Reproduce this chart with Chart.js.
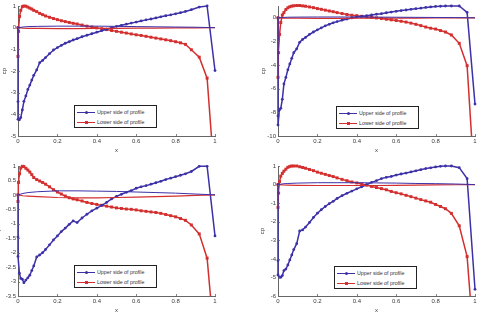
<!DOCTYPE html>
<html lang="en">
<head>
<meta charset="UTF-8" />
<title>Pressure coefficient on the profile</title>
<script src="https://cdn.jsdelivr.net/npm/chart.js@4"></script>
<style>
  body { margin: 0; background: #fff; width: 480px; height: 319px; overflow: hidden; position: relative;
         font-family: 'Liberation Sans', Arial, sans-serif; }
  .panel { position: absolute; width: 240px; height: 160px; }
  .panel canvas { position: absolute; left: 0; top: 0; }
  .legend { position: absolute; width: 83px; height: 23px; box-sizing: border-box; border: 1px solid #222;
            background: #fff; font-size: 5.3px; color: #333; }
  .legend .row { position: absolute; left: 0; height: 8px; width: 100%; }
  .legend .line { position: absolute; left: 2px; top: 3px; width: 18px; height: 1.5px; }
  .legend .mark { position: absolute; left: 9.5px; top: 2.2px; width: 3px; height: 3px; }
  .legend .txt { position: absolute; left: 22px; top: 0.5px; white-space: nowrap; line-height: 7px; }
</style>
</head>
<body>
<div class="panel" style="left:0;top:0"><canvas id="c1" width="240" height="160"></canvas></div>
<div class="panel" style="left:240px;top:0"><canvas id="c2" width="240" height="160"></canvas></div>
<div class="panel" style="left:0;top:160px"><canvas id="c3" width="240" height="160"></canvas></div>
<div class="panel" style="left:240px;top:160px"><canvas id="c4" width="240" height="160"></canvas></div>

<script>
// panel points along the chord (same discretisation in all four cases)
const xUpper = [0, 0, 0, 0.007, 0.014, 0.022, 0.03, 0.04, 0.05, 0.06, 0.07, 0.08, 0.095, 0.11, 0.125, 0.14,
  0.16, 0.18, 0.2, 0.22, 0.24, 0.26, 0.28, 0.3, 0.325, 0.35, 0.375, 0.4, 0.425, 0.45, 0.475, 0.5,
  0.525, 0.55, 0.575, 0.6, 0.625, 0.65, 0.675, 0.7, 0.725, 0.75, 0.775, 0.8, 0.825, 0.85, 0.88, 0.92, 0.96, 1.0];
const xLower = [0, 0, 0.003, 0.008, 0.014, 0.022, 0.03, 0.04, 0.05, 0.06, 0.07, 0.08, 0.095, 0.11, 0.125, 0.14,
  0.16, 0.18, 0.2, 0.22, 0.24, 0.26, 0.28, 0.3, 0.325, 0.35, 0.375, 0.4, 0.425, 0.45, 0.475, 0.5,
  0.525, 0.55, 0.575, 0.6, 0.625, 0.65, 0.675, 0.7, 0.725, 0.75, 0.775, 0.8, 0.825, 0.85, 0.88, 0.92, 0.96, 0.99];

// cp, upper side
const cpUpper1 = [0, -3.41, -4.23, -4.25, -4.15, -3.8, -3.4, -3.15, -2.85, -2.65, -2.42, -2.2, -1.95, -1.62, -1.51, -1.38,
  -1.2, -1.03, -0.92, -0.82, -0.72, -0.65, -0.57, -0.51, -0.42, -0.35, -0.28, -0.21, -0.14, -0.07, 0.0, 0.06,
  0.11, 0.16, 0.21, 0.26, 0.31, 0.36, 0.4, 0.45, 0.5, 0.55, 0.59, 0.64, 0.69, 0.75, 0.83, 0.95, 1.0, -1.98];
const cpUpper2 = [0, -8.3, -9.07, -7.8, -7.66, -6.9, -5.6, -5.04, -4.4, -3.9, -3.43, -2.95, -2.62, -2.07, -1.83, -1.66,
  -1.4, -1.2, -1.02, -0.85, -0.68, -0.55, -0.42, -0.32, -0.2, -0.1, -0.01, 0.07, 0.13, 0.18, 0.24, 0.3,
  0.35, 0.43, 0.49, 0.55, 0.61, 0.66, 0.72, 0.77, 0.82, 0.88, 0.92, 0.96, 0.98, 1.0, 1.0, 1.0, 0.46, -7.3];
const cpUpper3 = [0, -1.46, -2.13, -2.71, -2.89, -2.92, -3.04, -2.95, -2.87, -2.78, -2.62, -2.46, -2.15, -2.08, -2.0, -1.89,
  -1.73, -1.56, -1.42, -1.27, -1.15, -1.02, -0.9, -0.96, -0.8, -0.67, -0.55, -0.46, -0.36, -0.26, -0.14, -0.05,
  0.02, 0.09, 0.15, 0.23, 0.28, 0.32, 0.37, 0.42, 0.47, 0.53, 0.58, 0.63, 0.68, 0.73, 0.81, 0.99, 0.99, -1.42];
const cpUpper4 = [0, -4.09, -4.87, -4.99, -4.99, -4.9, -4.63, -4.55, -4.33, -4.06, -3.79, -3.5, -3.18, -2.5, -2.44, -2.29,
  -2.04, -1.77, -1.54, -1.35, -1.18, -1.03, -0.9, -0.75, -0.6, -0.47, -0.35, -0.23, -0.12, -0.01, 0.12, 0.21,
  0.32, 0.39, 0.44, 0.51, 0.57, 0.62, 0.68, 0.74, 0.8, 0.86, 0.9, 0.95, 0.98, 1.0, 1.0, 0.91, 0.32, -5.64];

// cp, lower side
const cpLower1 = [0, -1.33, -0.17, 0.52, 0.8, 0.97, 1.0, 0.99, 0.95, 0.9, 0.86, 0.8, 0.74, 0.66, 0.6, 0.54,
  0.48, 0.42, 0.37, 0.32, 0.28, 0.24, 0.2, 0.17, 0.12, 0.07, 0.03, -0.01, -0.05, -0.09, -0.13, -0.17,
  -0.21, -0.25, -0.29, -0.33, -0.36, -0.4, -0.44, -0.48, -0.52, -0.56, -0.6, -0.65, -0.7, -0.77, -1.02, -1.36, -2.33, -6.0];
const cpLower2 = [0, -5.04, -2.95, -1.4, -0.4, 0.24, 0.44, 0.7, 0.85, 0.94, 0.99, 1.02, 1.04, 1.04, 1.01, 0.98,
  0.92, 0.86, 0.78, 0.72, 0.65, 0.58, 0.52, 0.44, 0.36, 0.28, 0.22, 0.18, 0.13, 0.08, 0.04, -0.01,
  -0.06, -0.12, -0.17, -0.23, -0.29, -0.36, -0.45, -0.55, -0.66, -0.78, -0.88, -0.95, -1.08, -1.2, -1.45, -2.16, -4.05, -12];
const cpLower3 = [0, -0.23, 0.43, 0.73, 0.93, 0.99, 0.98, 0.92, 0.86, 0.79, 0.7, 0.6, 0.53, 0.48, 0.43, 0.37,
  0.28, 0.18, 0.1, 0.03, -0.04, -0.1, -0.14, -0.17, -0.21, -0.26, -0.3, -0.33, -0.36, -0.39, -0.42, -0.45,
  -0.47, -0.49, -0.5, -0.52, -0.55, -0.57, -0.59, -0.61, -0.64, -0.68, -0.72, -0.76, -0.82, -0.88, -1.04, -1.35, -2.19, -4.5];
const cpLower4 = [0, -1.23, -0.46, 0.17, 0.45, 0.6, 0.72, 0.83, 0.93, 0.98, 1.0, 1.0, 1.0, 0.96, 0.92, 0.88,
  0.81, 0.75, 0.67, 0.61, 0.55, 0.49, 0.43, 0.36, 0.28, 0.21, 0.14, 0.09, 0.03, -0.03, -0.1, -0.16,
  -0.22, -0.28, -0.37, -0.44, -0.5, -0.58, -0.65, -0.73, -0.81, -0.88, -0.95, -1.07, -1.18, -1.3, -1.55, -2.22, -3.88, -8];

// profile contour
const xProfile = [0, 0.025, 0.05, 0.1, 0.2, 0.3, 0.4, 0.5, 0.6, 0.7, 0.8, 0.9, 1];
const profUpperA = [0, 0.03, 0.05, 0.06, 0.07, 0.07, 0.07, 0.06, 0.05, 0.04, 0.03, 0.02, 0];
const profLowerA = [0, -0.02, -0.03, -0.03, -0.04, -0.04, -0.03, -0.03, -0.02, -0.02, -0.01, -0.01, 0];
const profUpperB = [0, 0.05, 0.08, 0.11, 0.14, 0.14, 0.13, 0.12, 0.1, 0.08, 0.06, 0.03, 0];
const profLowerB = [0, -0.03, -0.04, -0.06, -0.09, -0.1, -0.1, -0.09, -0.08, -0.06, -0.04, -0.02, 0];
const profUpperC = [0, 0.04, 0.06, 0.08, 0.1, 0.1, 0.1, 0.09, 0.08, 0.06, 0.05, 0.03, 0];
const profLowerC = [0, -0.02, -0.03, -0.04, -0.05, -0.05, -0.05, -0.05, -0.04, -0.03, -0.02, -0.01, 0];

const xTicks = [0, 0.2, 0.4, 0.6, 0.8, 1];
const legendLabels = ['Upper side of profile', 'Lower side of profile'];

const BLUE = '#3d31a8';
const RED = '#d42f2f';
const AXIS = '#666';
const TEXT = '#3a3a3a';

function pts(xs, ys) {
  return xs.map((x, i) => ({ x: x, y: ys[i] }));
}

// plain labels like matlab: 0, 0.2, 1, -0.5
function tickText(v) {
  return String(Number(v.toFixed(2)));
}

// matlab style ticks pointing into the plot
const innerTicks = {
  id: 'innerTicks',
  afterDraw(chart) {
    const { ctx, chartArea: a, scales: { x, y } } = chart;
    ctx.save();
    ctx.strokeStyle = AXIS;
    ctx.lineWidth = 0.8;
    ctx.beginPath();
    x.ticks.forEach(t => {
      const px = Math.round(x.getPixelForValue(t.value)) + 0.5;
      ctx.moveTo(px, a.bottom);
      ctx.lineTo(px, a.bottom - 2);
    });
    y.ticks.forEach(t => {
      const py = Math.round(y.getPixelForValue(t.value)) + 0.5;
      ctx.moveTo(a.left, py);
      ctx.lineTo(a.left + 2, py);
    });
    ctx.stroke();
    ctx.restore();
  }
};

function makeChart(id, cpU, cpL, profU, profL, yMin, yMax, yStep, leftW, rightPad, labelPad) {
  const ctx = document.getElementById(id).getContext('2d');
  const font = { family: "'Liberation Sans', Arial, sans-serif", size: 6 };
  return new Chart(ctx, {
    type: 'scatter',
    data: {
      datasets: [
        { label: 'profile upper', data: pts(xProfile, profU), showLine: true, borderColor: BLUE,
          borderWidth: 1, pointRadius: 0 },
        { label: 'profile lower', data: pts(xProfile, profL), showLine: true, borderColor: RED,
          borderWidth: 1.2, pointRadius: 0 },
        { label: legendLabels[0], data: pts(xUpper, cpU), showLine: true, borderColor: BLUE,
          backgroundColor: BLUE, borderWidth: 1.5, pointRadius: 1.4, pointBorderWidth: 0 },
        { label: legendLabels[1], data: pts(xLower, cpL), showLine: true, borderColor: RED,
          backgroundColor: RED, borderWidth: 1.5, pointStyle: 'rect', pointRadius: 2.1, pointBorderWidth: 0 }
      ]
    },
    options: {
      responsive: false,
      animation: false,
      events: [],
      clip: { left: 4, top: 4, right: 4, bottom: 0 },
      layout: { padding: { left: 0, right: rightPad, top: 6, bottom: 0 } },
      plugins: { legend: { display: false }, tooltip: { enabled: false } },
      scales: {
        x: {
          type: 'linear', min: 0, max: 1,
          afterFit: s => { s.height = 24; },
          afterBuildTicks: s => { s.ticks = xTicks.map(v => ({ value: v })); },
          grid: { display: false, drawTicks: false },
          border: { color: AXIS, width: 1 },
          ticks: { font: font, color: TEXT, padding: 2, maxRotation: 0, callback: tickText },
          title: { display: true, text: 'x', font: font, color: TEXT, padding: { top: 0, bottom: 6 } }
        },
        y: {
          type: 'linear', min: yMin, max: yMax,
          afterFit: s => { s.width = leftW; },
          grid: { display: false, drawTicks: false },
          border: { color: AXIS, width: 1 },
          ticks: { font: font, color: TEXT, padding: 2, stepSize: yStep, includeBounds: false, callback: tickText },
          title: { display: true, text: 'cp', font: font, color: TEXT, padding: { top: labelPad, bottom: 0 } }
        }
      }
    },
    plugins: [innerTicks]
  });
}

function addLegend(panelIndex, left, top) {
  const panel = document.querySelectorAll('.panel')[panelIndex];
  const box = document.createElement('div');
  box.className = 'legend';
  box.style.left = left + 'px';
  box.style.top = top + 'px';
  [[BLUE, '50%'], [RED, '0']].forEach((s, i) => {
    const row = document.createElement('div');
    row.className = 'row';
    row.style.top = (2.5 + i * 10) + 'px';
    row.innerHTML = '<div class="line" style="background:' + s[0] + '"></div>' +
      '<div class="mark" style="background:' + s[0] + ';border-radius:' + s[1] + '"></div>' +
      '<div class="txt">' + legendLabels[i] + '</div>';
    box.appendChild(row);
  });
  panel.appendChild(box);
}

makeChart('c1', cpUpper1, cpLower1, profUpperA, profLowerA, -5, 1, 1, 18, 25, 1);
makeChart('c2', cpUpper2, cpLower2, profUpperA, profLowerA, -10, 1, 2, 38, 5, 20);
makeChart('c3', cpUpper3, cpLower3, profUpperB, profLowerB, -3.5, 1, 0.5, 18, 25, -5);
makeChart('c4', cpUpper4, cpLower4, profUpperC, profLowerC, -6, 1, 1, 38, 5, 19);

addLegend(0, 74, 105);
addLegend(1, 96, 106);
addLegend(2, 74, 105);
addLegend(3, 94, 106);
</script>
</body>
</html>
